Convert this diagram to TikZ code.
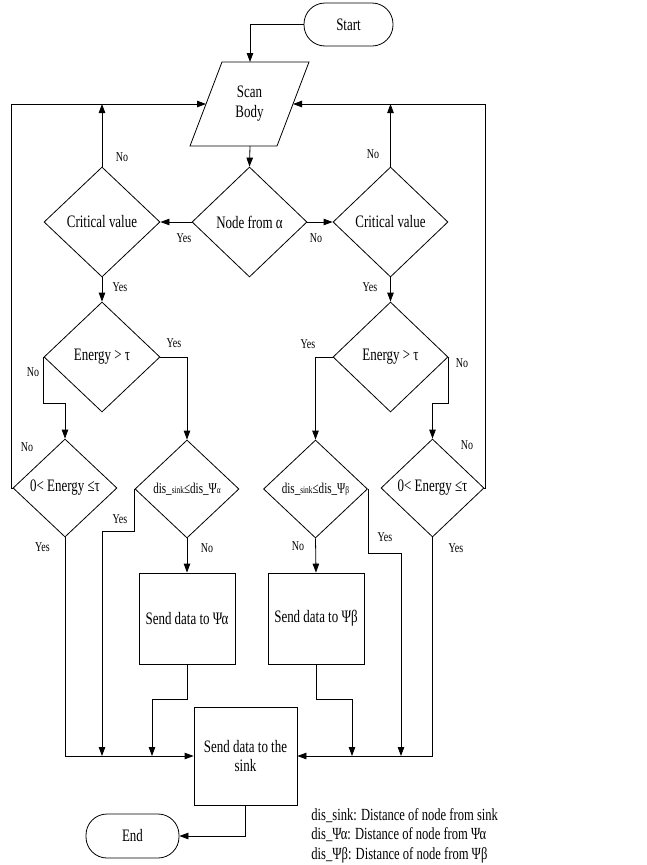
\documentclass[tikz,border=0pt]{standalone}
\usepackage{fontspec}
\setmainfont[FakeStretch=0.74]{Liberation Serif}
\usetikzlibrary{shapes.geometric,arrows.meta,calc}
\begin{document}
\begin{tikzpicture}[x=1pt,y=-1pt,line width=0.8pt,
  every node/.style={font=\fontsize{17.5}{20}\selectfont},
  dec/.style 2 args={draw,diamond,inner sep=0pt,minimum width=#1,minimum height=#2},
  proc/.style 2 args={draw,rectangle,inner sep=0pt,align=center,minimum width=#1,minimum height=#2},
  term/.style 2 args={draw,rectangle,rounded corners=21pt,inner sep=0pt,minimum width=#1,minimum height=#2},
  lbl/.style={font=\fontsize{13.5}{15}\selectfont,inner sep=0pt},
  leg/.style={font=\fontsize{17}{19}\selectfont,inner sep=0pt,anchor=base west},
  arr/.style={-{Triangle[length=9pt,width=6.5pt]}},
  line/.style={}]
\useasboundingbox (0,0) rectangle (646,865);
% terminals
\node[term={89pt}{43pt}] (start) at (348.5,24.5) {Start};
\node[term={93pt}{44pt}] (end) at (132.5,836) {End};
% scan body (parallelogram)
\draw (222,62) -- (309,62) -- (277,146) -- (190,146) -- cycle;
\node[align=center,inner sep=0pt] (scan) at (249.5,104) {Scan\\Body};
\coordinate (scanT) at (250,62);
\coordinate (scanB) at (250,146);
\coordinate (scanL) at (206,104);
\coordinate (scanR) at (293,104);
% decisions
\node[dec={115pt}{110pt}] (na) at (249.5,222) {Node from α};
\node[dec={116pt}{110pt}] (critL) at (102,222) {Critical value};
\node[dec={115pt}{110pt}] (critR) at (390.5,222) {Critical value};
\node[dec={116pt}{110pt}] (enL) at (102,357) {Energy > τ};
\node[dec={115pt}{110pt}] (enR) at (390.5,357) {Energy > τ};
\node[dec={104pt}{98pt}] (ezL) at (65,488) {0< Energy ≤τ};
\node[dec={104pt}{98pt}] (disA) at (187,489) {\fontsize{15}{17}\selectfont dis\_{\fontsize{10}{12}\selectfont sink}≤dis\_Ψ{\fontsize{10}{12}\selectfont α}};
\node[dec={104pt}{98pt}] (disB) at (315.5,489) {\fontsize{15}{17}\selectfont dis\_{\fontsize{10}{12}\selectfont sink}≤dis\_Ψ{\fontsize{10}{12}\selectfont β}};
\node[dec={103pt}{98pt}] (ezR) at (432.5,488) {0< Energy ≤τ};
% processes
\node[proc={96pt}{91pt}] (sendA) at (187,618.5) {Send data to Ψα};
\node[proc={96pt}{91pt}] (sendB) at (316,618.5) {Send data to Ψβ};
\node[proc={103pt}{98pt},font=\fontsize{17.5}{18.5}\selectfont] (sink) at (245.5,756) {Send data to the\\sink};
% bend coordinates
\coordinate (lloop) at (11,104);
\coordinate (rloop) at (485,104);
\coordinate (bL1) at (65,403);
\coordinate (bR1) at (432.5,403);
\coordinate (ya1) at (102,531);
\coordinate (ja1) at (102,756);
\coordinate (yb1) at (401,553);
\coordinate (jb1) at (401,756);
\coordinate (sa1) at (152,699);
\coordinate (ja2) at (152,756);
\coordinate (sb1) at (352,699);
\coordinate (jb2) at (352,756);
% connectors
\draw[arr] (start.west) -| (scanT);
\draw[arr] (scanB) -- (na.north);
\draw[arr] (na.west) -- (critL.east);
\draw[arr] (na.east) -- (critR.west);
\draw[arr] (critL.north) -- (critL.north |- scanL);
\draw[arr] (critR.north) -- (critR.north |- scanR);
\draw[arr] (ezL.west) -| (lloop) -- (scanL);
\draw[arr] (ezR.east) -| (rloop) -- (scanR);
\draw[arr] (critL.south) -- (enL.north);
\draw[arr] (critR.south) -- (enR.north);
\draw[arr] (enL.west) |- (bL1) -- (ezL.north);
\draw[arr] (enR.east) |- (bR1) -- (ezR.north);
\draw[arr] (enL.east) -| (disA.north);
\draw[arr] (enR.west) -| (disB.north);
\draw[arr] (disA.west) |- (ya1) -- (ja1);
\draw[arr] (disB.east) |- (yb1) -- (jb1);
\draw[arr] (disA.south) -- (sendA.north);
\draw[arr] (disB.south) -- (sendB.north);
\draw[arr] (sendA.south) |- (sa1) -- (ja2);
\draw[arr] (sendB.south) |- (sb1) -- (jb2);
\draw[arr] (ezL.south) |- (sink.west);
\draw[arr] (ezR.south) |- (sink.east);
\draw[arr] (sink.south) |- (end.east);
% labels
\node[lbl] (l1) at (122,157) {No};
\node[lbl] (l2) at (373,154) {No};
\node[lbl] (l3) at (184,238) {Yes};
\node[lbl] (l4) at (316,238) {No};
\node[lbl] (l5) at (120,287) {Yes};
\node[lbl] (l6) at (370,287) {Yes};
\node[lbl] (l7) at (174,343) {Yes};
\node[lbl] (l8) at (33,372) {No};
\node[lbl] (l9) at (308,344) {Yes};
\node[lbl] (l10) at (462,363) {No};
\node[lbl] (l11) at (27,447) {No};
\node[lbl] (l12) at (467,445) {No};
\node[lbl] (l13) at (120,519) {Yes};
\node[lbl] (l14) at (42.5,547) {Yes};
\node[lbl] (l15) at (207,548) {No};
\node[lbl] (l16) at (298,546) {No};
\node[lbl] (l17) at (385,537) {Yes};
\node[lbl] (l18) at (456,548) {Yes};
% legend
\node[leg] (g1) at (311,820) {dis\_sink: Distance of node from sink};
\node[leg] (g2) at (311,839.5) {dis\_Ψα: Distance of node from Ψα};
\node[leg] (g3) at (311,859) {dis\_Ψβ: Distance of node from Ψβ};
\end{tikzpicture}
\end{document}
